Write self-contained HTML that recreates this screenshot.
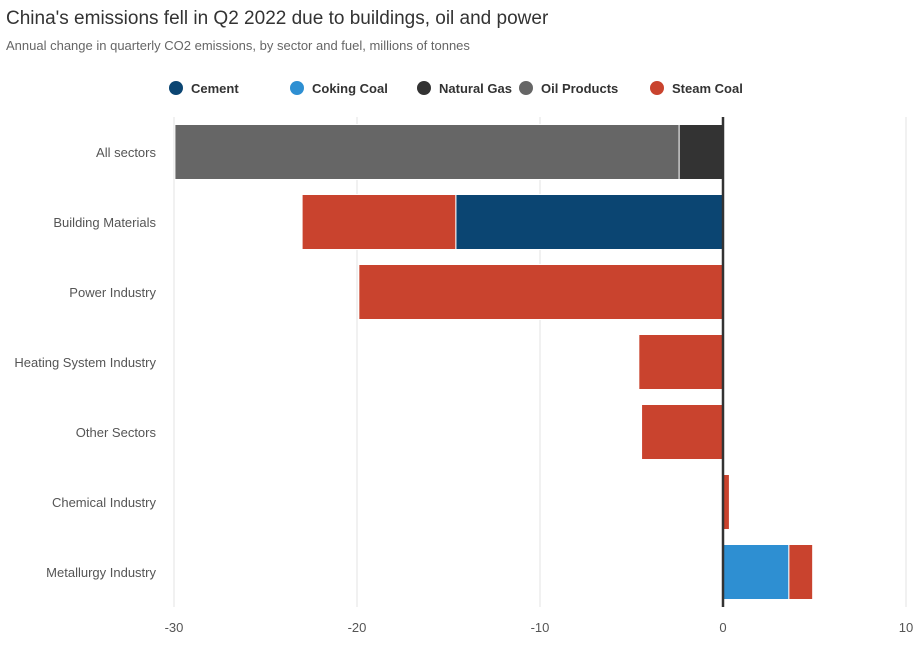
<!DOCTYPE html>
<html><head><meta charset="utf-8"><style>
body{margin:0;background:#fff;font-family:"Liberation Sans",sans-serif;}
svg text{font-family:"Liberation Sans",sans-serif;}
</style></head><body>
<svg id="chart" width="915" height="640">
<text x="6" y="24" font-size="19" fill="#333">China's emissions fell in Q2 2022 due to buildings, oil and power</text>
<text x="6" y="50" font-size="13" fill="#666">Annual change in quarterly CO2 emissions, by sector and fuel, millions of tonnes</text>
<g id="legend"></g>
<g id="grid"></g><g id="bars"></g><g id="axes"></g>
</svg>
<script>
const categories=["All sectors","Building Materials","Power Industry","Heating System Industry","Other Sectors","Chemical Industry","Metallurgy Industry"];
const seriesNames=["Natural Gas","Oil Products","Cement","Coking Coal","Steam Coal"];
const naturalGas=[-2.4,0,0,0,0,0,0];
const oilProducts=[-27.55,0,0,0,0,0,0];
const cement=[0,-14.6,0,0,0,0,0];
const cokingCoal=[0,0,0,0,0,0,3.6];
const steamCoal=[0,-8.4,-19.9,-4.6,-4.45,0.35,1.3];
const xTicks=[-30,-20,-10,0,10];
const legendNames=["Cement","Coking Coal","Natural Gas","Oil Products","Steam Coal"];
const colors={"Cement":"#0b4572","Coking Coal":"#2e8fd2","Natural Gas":"#333333","Oil Products":"#666666","Steam Coal":"#c9432e"};
const seriesData=[naturalGas,oilProducts,cement,cokingCoal,steamCoal];
const NS="http://www.w3.org/2000/svg";
const x0=174,x1=906,vmin=-30,vmax=10,yTop=117,yBottom=607;
const xs=v=>x0+(v-vmin)/(vmax-vmin)*(x1-x0);
const band=(yBottom-yTop)/categories.length;
const yc=i=>yTop+band*(i+0.5);
function mk(t,a,p){const e=document.createElementNS(NS,t);for(const k in a)e.setAttribute(k,a[k]);(p||document.getElementById('chart')).appendChild(e);return e;}
const lx=[176,297,424,526,657];
legendNames.forEach((n,i)=>{
 const g=mk('g',{},document.getElementById('legend'));
 
 
 mk('circle',{cx:lx[i],cy:88,r:7,fill:colors[n]},g);
 const t=mk('text',{x:lx[i]+15,y:93,'font-size':13,'font-weight':'bold',fill:'#333'},g);t.textContent=n;
});
const grid=document.getElementById('grid');
xTicks.forEach(v=>{
 if(v!==0){const l=mk('line',{x1:xs(v),x2:xs(v),y1:yTop,y2:yBottom,stroke:'#e3e3e3','stroke-width':1},grid);
 
 }
 const t=mk('text',{x:xs(v),y:632,'font-size':13,fill:'#555','text-anchor':'middle'},document.getElementById('axes'));
 
 
 t.textContent=v;
});
const bars=document.getElementById('bars');
const bh=55;
categories.forEach((c,i)=>{
 let pos=0,neg=0;
 seriesData.forEach((arr,s)=>{
  const v=arr[i];if(!v)return;
  let a,b;
  if(v>0){a=pos;b=pos+v;pos=b;}else{a=neg+v;b=neg;neg=a;}
  const r=mk('rect',{x:xs(a),y:yc(i)-bh/2,width:Math.max(0,xs(b)-xs(a)),height:bh,fill:colors[seriesNames[s]],stroke:'#fff','stroke-width':1},bars);
  
  
 });
 const t=mk('text',{x:156,y:yc(i)+5,'font-size':13,fill:'#555','text-anchor':'end'},document.getElementById('axes'));
 
 
 t.textContent=c;
});
const z=mk('line',{x1:xs(0),x2:xs(0),y1:yTop,y2:yBottom,stroke:'#333','stroke-width':2.5},document.getElementById('axes'));


</script>
</body></html>
